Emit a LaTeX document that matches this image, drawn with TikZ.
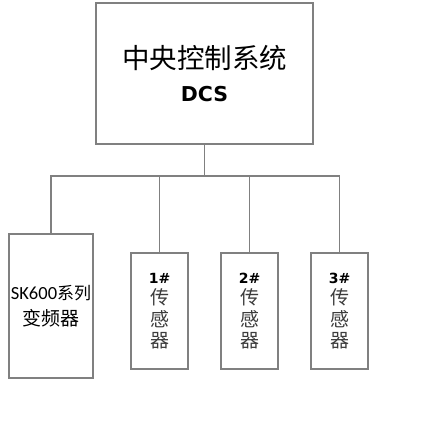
\documentclass[tikz,border=0pt]{standalone}
\usepackage{fontspec}
\setmainfont{Carlito}
\newfontfamily\cjk{Noto Sans CJK SC}
\newfontfamily\dvs{DejaVu Sans}
\begin{document}
\begin{tikzpicture}[x=1pt,y=-1pt,
  box/.style={draw=linegray,line width=1.2pt,inner sep=0pt,align=center},
  sensor/.style={box,minimum width=57pt,minimum height=116pt,text=txtgray,
    font=\cjk\fontsize{19}{21.5}\selectfont},
  conn/.style={draw=linegray,line width=1.2pt}]
\definecolor{linegray}{RGB}{128,128,128}
\definecolor{txtgray}{RGB}{60,60,60}
\useasboundingbox (0,0) rectangle (434,427);
\node[box,minimum width=217pt,minimum height=141pt,
  font=\fontsize{27.5}{33}\selectfont] (dcs) at (204.5,73.5)
  {{\cjk 中央控制系统}\\{\dvs\fontsize{20.5}{33}\selectfont\bfseries DCS}};
\node[box,minimum width=84pt,minimum height=144pt,
  font=\fontsize{18.5}{26}\selectfont] (sk) at (51,306)
  {SK600{\cjk\fontsize{17}{26}\selectfont 系列}\\{\cjk\fontsize{19}{26}\selectfont 变频器}};
\node[sensor] (s1) at (159.5,311)
  {{\dvs\bfseries\color{black}\fontsize{14}{21.5}\selectfont 1\#}\\传\\感\\器};
\node[sensor] (s2) at (249.5,311)
  {{\dvs\bfseries\color{black}\fontsize{14}{21.5}\selectfont 2\#}\\传\\感\\器};
\node[sensor] (s3) at (339.5,311)
  {{\dvs\bfseries\color{black}\fontsize{14}{21.5}\selectfont 3\#}\\传\\感\\器};
\coordinate (j) at (204.5,176);
\draw[conn] (dcs.south) -- (j);
\draw[conn] (sk.north) |- (j) -| (s3.north);
\draw[conn] (s1.north) -- (s1.north |- j);
\draw[conn] (s2.north) -- (s2.north |- j);
\end{tikzpicture}
\end{document}
